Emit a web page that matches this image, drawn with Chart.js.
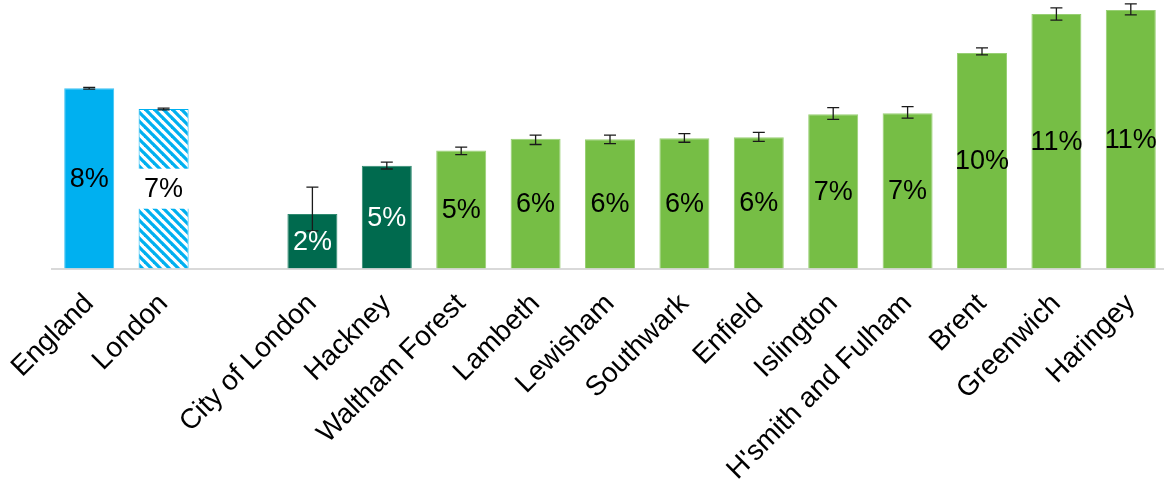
<!DOCTYPE html>
<html>
<head>
<meta charset="utf-8">
<script src="https://cdn.jsdelivr.net/npm/chart.js@4"></script>
<style>
  body { margin: 0; overflow: hidden; background: #fff; }
  #wrap { width: 1168px; height: 484px; }
</style>
</head>
<body>
<div id="wrap"><canvas id="grafico"></canvas></div>
<script>
// categories (blank entry is the gap between London and the boroughs)
const areas = ['England', 'London', '', 'City of London', 'Hackney', 'Waltham Forest', 'Lambeth',
    'Lewisham', 'Southwark', 'Enfield', 'Islington', "H'smith and Fulham", 'Brent', 'Greenwich', 'Haringey'];
// percentages
const valores = [8.01, 7.09, null, 2.42, 4.56, 5.24, 5.76, 5.74, 5.79, 5.83, 6.85, 6.90, 9.58, 11.31, 11.49];
const erroAlto = [8.05, 7.13, null, 3.62, 4.73, 5.39, 5.93, 5.93, 5.99, 6.05, 7.15, 7.19, 9.80, 11.58, 11.76];
const erroBaixo = [7.97, 7.05, null, 1.67, 4.42, 5.06, 5.51, 5.55, 5.61, 5.65, 6.63, 6.68, 9.49, 11.04, 11.27];

const AZUL = '#00B0F0';
const VERDE_ESCURO = '#006A4E';
const VERDE = '#76BE45';
const fonte = '"Liberation Sans", Arial, sans-serif';

// hatch pattern for London
function listrado() {
    let c = document.createElement('canvas');
    c.width = 9; c.height = 9;
    let g = c.getContext('2d');
    g.fillStyle = '#fff';
    g.fillRect(0, 0, 9, 9);
    g.strokeStyle = AZUL;
    g.lineWidth = 3.3;
    for (let k = -9; k <= 9; k += 9) {
        g.beginPath();
        g.moveTo(-2, k - 2);
        g.lineTo(11, k + 11);
        g.stroke();
    }
    return g.createPattern(c, 'repeat');
}

let ctx = document.getElementById('grafico').getContext('2d');

const cores = areas.map((a, i) => {
    if (i === 0) return AZUL;
    if (i === 1) return listrado();
    if (i === 3 || i === 4) return VERDE_ESCURO;
    return VERDE;
});
const bordas = areas.map((a, i) => {
    if (i <= 1) return i === 1 ? AZUL : '#3fc2f2';
    if (i === 3 || i === 4) return '#2f8a70';
    return '#98cf74';
});

const barrasDeErro = {
    id: 'barrasDeErro',
    afterDatasetsDraw(chart) {
        let c = chart.ctx;
        let y = chart.scales.y;
        let meta = chart.getDatasetMeta(0);
        c.save();
        // white gap behind the London label
        let lon = meta.data[1];
        let mid = (lon.y + lon.base) / 2;
        c.fillStyle = '#fff';
        c.fillRect(lon.x - lon.width / 2 - 2, mid - 20, lon.width + 4, 40);

        c.strokeStyle = '#1a1a1a';
        c.lineWidth = 1.3;
        meta.data.forEach((bar, i) => {
            if (valores[i] === null) return;
            let yt = y.getPixelForValue(erroAlto[i]);
            let yb = y.getPixelForValue(erroBaixo[i]);
            c.beginPath();
            c.moveTo(bar.x, yt); c.lineTo(bar.x, yb);
            c.moveTo(bar.x - 6, yt); c.lineTo(bar.x + 6, yt);
            c.moveTo(bar.x - 6, yb); c.lineTo(bar.x + 6, yb);
            c.stroke();
        });

        c.font = '27px ' + fonte;
        c.textAlign = 'center';
        c.textBaseline = 'middle';
        meta.data.forEach((bar, i) => {
            if (valores[i] === null) return;
            c.fillStyle = (i === 3 || i === 4) ? '#fff' : '#000';
            c.fillText(Math.round(valores[i]) + '%', bar.x, (bar.y + bar.base) / 2 + 1);
        });
        c.restore();
    }
};

window.grafico = new Chart(ctx, {
    type: 'bar',
    data: {
        labels: areas,
        datasets: [{
            data: valores,
            backgroundColor: cores,
            borderColor: bordas,
            borderWidth: { top: 1, left: 1, right: 1, bottom: 0 },
            categoryPercentage: 1,
            barPercentage: 0.672
        }]
    },
    options: {
        responsive: true,
        maintainAspectRatio: false,
        animation: false,
        layout: { padding: { left: 52, right: 0, top: 0, bottom: 0 } },
        plugins: { legend: { display: false }, tooltip: { enabled: false } },
        scales: {
            x: {
                grid: { display: false },
                border: { color: '#D9D9D9', width: 2 },
                ticks: {
                    color: '#000',
                    font: { family: fonte, size: 28 },
                    minRotation: 45,
                    maxRotation: 45,
                    autoSkip: false,
                    padding: 11
                },
                afterFit: function(s) { s.height = 215.5; }
            },
            y: { display: false, min: 0, max: 11.93 }
        }
    },
    plugins: [barrasDeErro]
});
</script>
</body>
</html>
